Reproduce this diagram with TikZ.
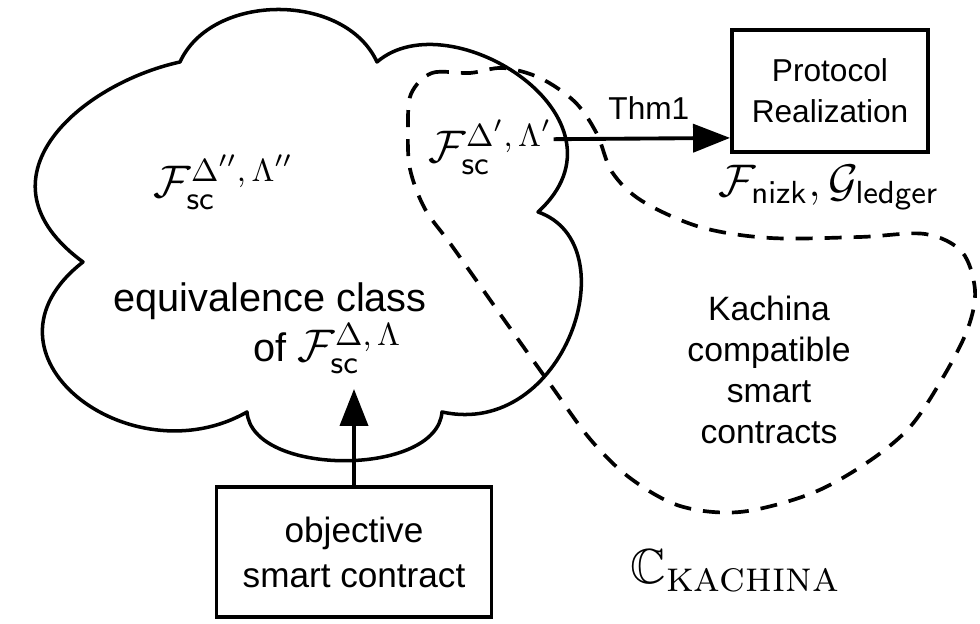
\RequirePackage{fix-cm}
\documentclass[tikz,border=0pt]{standalone}
\usepackage{amsmath}
\usepackage{amssymb}
\usepackage[no-math]{fontspec}
\newfontfamily\diagfont{Liberation Sans}
\usetikzlibrary{arrows.meta}

\tikzset{
    box/.style={draw, line width=1.1pt, align=center, inner sep=0pt},
    conn/.style={line width=1.1pt, -{Triangle[length=3.7mm,width=2.8mm]}},
    cloudline/.style={line width=1pt, line join=round},
    kachinaline/.style={line width=1.05pt, dash pattern=on 1.7mm off 1.2mm},
    smalltxt/.style={inner sep=0pt, align=center, font=\diagfont\fontsize{9}{11.7}\selectfont},
    bigtxt/.style={inner sep=0pt, font=\diagfont\fontsize{11.3}{14.2}\selectfont},
    mathtxt/.style={inner sep=0pt, font=\fontsize{13}{15}\selectfont}
}

\begin{document}
\begin{tikzpicture}[x=0.1mm, y=0.1mm]
            \useasboundingbox (0,0) rectangle (980,624);

            \draw[cloudline] (180,562)
                .. controls (212,632) and (345,632) .. (377,562)
                .. controls (450,625) and (640,505) .. (538,412)
                .. controls (630,380) and (565,185) .. (442,212)
                .. controls (437,147) and (252,147) .. (247,212)
                .. controls (130,145) and (-35,270) .. (83,362)
                .. controls (-30,445) and (80,540) .. cycle;

            \draw[kachinaline] plot[smooth cycle, tension=0.55] coordinates {
                (411,530) (432,551) (470,551) (503,556) (540,546) (575,522)
                (597,490) (612,452) (642,423) (700,397) (770,386) (860,387)
                (925,390) (962,372) (975,334) (968,296) (945,250) (910,197)
                (865,160) (810,130) (740,112) (680,118) (630,146) (590,185)
                (550,240) (505,303) (452,378) (425,415) (410,455) (408,495)};

            \node[mathtxt, anchor=base west] (fdd) at (153,426)
                {$\mathcal{F}_{\mathsf{sc}}^{\Delta'',\,\Lambda''}$};
            \node[mathtxt, anchor=base west] (fpr) at (428,461)
                {$\mathcal{F}_{\mathsf{sc}}^{\Delta',\,\Lambda'}$};
            \node[bigtxt, anchor=base] (eqclass) at (270,312) {equivalence class};
            \node[bigtxt, anchor=base west] (eqof) at (253,262)
                {of {\fontsize{13}{15}\selectfont$\mathcal{F}_{\mathsf{sc}}^{\Delta,\,\Lambda}$}};

            \node[box, smalltxt, minimum width=19.6mm, minimum height=12.2mm] (proto) at (830,533)
                {Protocol\\Realization};
            \node[mathtxt, anchor=base] (funcs) at (829,427)
                {$\mathcal{F}_{\mathsf{nizk}}, \mathcal{G}_{\mathsf{ledger}}$};

            \node[smalltxt, font=\diagfont\fontsize{9.6}{11.7}\selectfont] (kachina) at (769,254)
                {Kachina\\compatible\\smart\\contracts};

            \node[box, font=\diagfont\fontsize{10}{12.8}\selectfont, minimum width=27.5mm, minimum height=13mm] (obj) at (354,72)
                {objective\\smart contract};
            \node[inner sep=0pt, anchor=base west, font=\fontsize{14}{16}\selectfont] (ckachina) at (630,40)
                {$\mathbb{C}_{\mbox{\fontsize{12.4}{14}\selectfont\scshape kachina}}$};

            \coordinate (eqtip) at (354,235);
            \draw[conn] (obj.north) -- (eqtip);
            \draw[conn] ([yshift=0.8mm]fpr.east) -- node[smalltxt, above=1.7mm, pos=0.54] (thm) {Thm1}
                ([yshift=1.6mm]proto.south west);
        \end{tikzpicture}
\end{document}
